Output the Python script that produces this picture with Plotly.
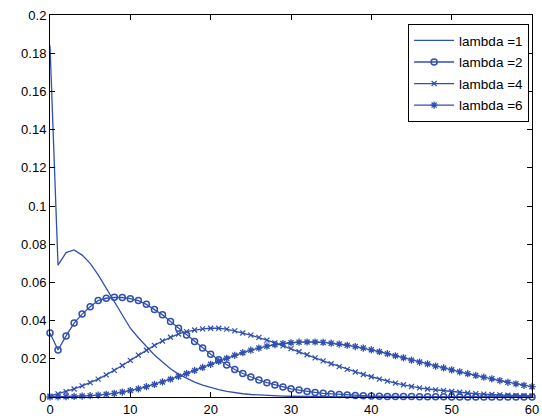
import plotly.graph_objects as go

# Integer support 0..60
x_vals = list(range(61))

lam1 = [0.184, 0.069, 0.0756, 0.077, 0.0743, 0.070, 0.0639, 0.057, 0.050, 0.0425,
        0.036, 0.031, 0.0265, 0.022, 0.0183, 0.0148, 0.012, 0.0098, 0.0078, 0.0062,
        0.0049, 0.0038, 0.003, 0.0022, 0.0017, 0.0013, 0.001, 0.0008, 0.0006, 0.0005,
        0.0004, 0.0003, 0.0002, 0.0002, 0.0001, 0.0001, 0.0001, 0.0, 0.0, 0.0,
        0.0, 0.0, 0.0, 0.0, 0.0, 0.0, 0.0, 0.0, 0.0, 0.0,
        0.0, 0.0, 0.0, 0.0, 0.0, 0.0, 0.0, 0.0, 0.0, 0.0, 0.0]

lam2 = [0.0335, 0.0246, 0.032, 0.0387, 0.0434, 0.0473, 0.0505, 0.0517, 0.0522, 0.0521,
        0.0515, 0.0505, 0.0485, 0.0458, 0.043, 0.0395, 0.036, 0.0325, 0.029, 0.0256,
        0.0224, 0.0195, 0.0168, 0.0144, 0.0123, 0.0105, 0.0089, 0.0075, 0.0063, 0.0052,
        0.0043, 0.0036, 0.0029, 0.0024, 0.0019, 0.0016, 0.0013, 0.001, 0.0008, 0.0007,
        0.0005, 0.0004, 0.0003, 0.0003, 0.0002, 0.0002, 0.0001, 0.0001, 0.0001, 0.0001,
        0.0, 0.0, 0.0, 0.0, 0.0, 0.0, 0.0, 0.0, 0.0, 0.0, 0.0]

lam4 = [0.0005, 0.0016, 0.0028, 0.0042, 0.0058, 0.0075, 0.0094, 0.0116, 0.0139, 0.0165,
        0.0192, 0.0219, 0.0245, 0.027, 0.0293, 0.0313, 0.033, 0.0342, 0.0351, 0.0357,
        0.036, 0.036, 0.0355, 0.0346, 0.0335, 0.0324, 0.0312, 0.0298, 0.0283, 0.0268,
        0.0253, 0.0237, 0.0221, 0.0205, 0.0189, 0.0174, 0.0159, 0.0145, 0.0131, 0.0118,
        0.0106, 0.0094, 0.0083, 0.0073, 0.0064, 0.0055, 0.0048, 0.0042, 0.0037, 0.0033,
        0.0029, 0.0025, 0.0021, 0.0018, 0.0015, 0.0013, 0.0011, 0.0009, 0.0008, 0.0007, 0.0006]

lam6 = [0.0, 0.0001, 0.0002, 0.0003, 0.0005, 0.0007, 0.001, 0.0014, 0.0019, 0.0026,
        0.0034, 0.0043, 0.0054, 0.0066, 0.0079, 0.0093, 0.0108, 0.0123, 0.0139, 0.0155,
        0.0171, 0.0187, 0.0203, 0.0218, 0.0232, 0.0245, 0.0256, 0.0266, 0.0274, 0.028,
        0.0284, 0.0287, 0.0288, 0.0288, 0.0286, 0.0282, 0.0277, 0.0271, 0.0264, 0.0256,
        0.0247, 0.0237, 0.0227, 0.0216, 0.0205, 0.0193, 0.0183, 0.0173, 0.0162, 0.0152,
        0.0142, 0.0132, 0.0122, 0.0113, 0.0104, 0.0095, 0.0086, 0.0077, 0.0069, 0.0061, 0.0054]

series_names = ["lambda =1", "lambda =2", "lambda =4", "lambda =6"]

x_ticks = [0, 10, 20, 30, 40, 50, 60]
y_ticks = [0, 0.02, 0.04, 0.06, 0.08, 0.1, 0.12, 0.14, 0.16, 0.18, 0.2]
y_tick_text = ["0", "0.02", "0.04", "0.06", "0.08", "0.1", "0.12", "0.14", "0.16", "0.18", "0.2"]

BLUE = "#3050b0"
FONT = "Liberation Sans, Arial, sans-serif"

fig = go.Figure()
fig.add_trace(go.Scatter(x=x_vals, y=lam1, name=series_names[0], mode="lines",
                         legendgroup="g1",
                         line=dict(color=BLUE, width=1.3), cliponaxis=False))
fig.add_trace(go.Scatter(x=x_vals, y=lam2, name=series_names[1], mode="lines+markers",
                         legendgroup="g2",
                         line=dict(color=BLUE, width=1.3),
                         marker=dict(symbol="circle-open", size=6, color=BLUE,
                                     line=dict(width=1.5, color=BLUE)),
                         cliponaxis=False))
fig.add_trace(go.Scatter(x=x_vals, y=lam4, name=series_names[2], mode="lines+markers",
                         legendgroup="g3",
                         line=dict(color=BLUE, width=1.3),
                         marker=dict(symbol="x-thin-open", size=5, color=BLUE,
                                     line=dict(width=1.2, color=BLUE)),
                         cliponaxis=False))
fig.add_trace(go.Scatter(x=x_vals, y=lam6, name=series_names[3], mode="lines+markers",
                         legendgroup="g4",
                         line=dict(color=BLUE, width=1.3),
                         marker=dict(symbol="asterisk-open", size=6, color=BLUE,
                                     line=dict(width=1.3, color=BLUE)),
                         cliponaxis=False))

axis_style = dict(showline=True, linecolor="black", linewidth=1, mirror="ticks",
                  ticks="inside", ticklen=5, tickcolor="black", tickwidth=1,
                  showgrid=False, zeroline=False, automargin=False,
                  tickfont=dict(family=FONT, size=13, color="black"))

fig.update_xaxes(range=[0, 60], tickmode="array", tickvals=x_ticks, **axis_style)
fig.update_yaxes(range=[0, 0.2], tickmode="array", tickvals=y_ticks, ticktext=y_tick_text,
                 **axis_style)

fig.update_layout(
    width=542, height=418,
    margin=dict(l=50, r=10, t=15, b=21, pad=0, autoexpand=False),
    paper_bgcolor="white", plot_bgcolor="white",
    showlegend=True,
    legend=dict(x=0.994, y=0.976, xanchor="right", yanchor="top",
                bgcolor="white", bordercolor="black", borderwidth=1,
                font=dict(family=FONT, size=13.5, color="black"),
                tracegroupgap=1, itemwidth=40),
)

fig.write_html("out.html")
